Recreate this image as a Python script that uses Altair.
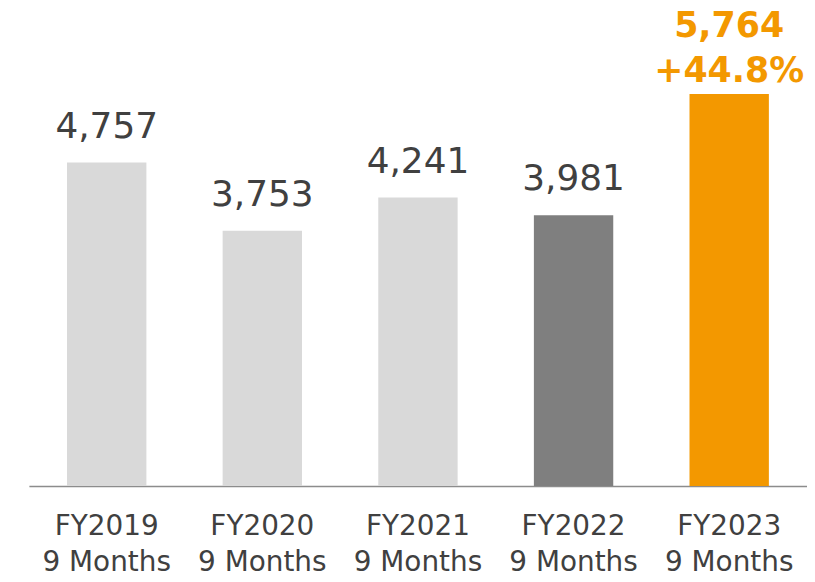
import altair as alt
import pandas as pd

categories = ["FY2019", "FY2020", "FY2021", "FY2022", "FY2023"]
sublabels = ["9 Months"] * 5
values = [4757, 3753, 4241, 3981, 5764]
value_labels = ["4,757", "3,753", "4,241", "3,981", "5,764"]
growth_labels = ["", "", "", "", "+44.8%"]
bar_colors = ["#D9D9D9", "#D9D9D9", "#D9D9D9", "#7F7F7F", "#F39800"]
label_colors = ["#404040", "#404040", "#404040", "#404040", "#F39800"]

df = pd.DataFrame({
    "cat": categories,
    "value": values,
    "vlabel": value_labels,
    "glabel": growth_labels,
    "bcolor": bar_colors,
    "lcolor": label_colors,
})
df["highlight"] = df["glabel"] != ""

x = alt.X("cat:N", sort=categories,
          scale=alt.Scale(paddingInner=0.49, paddingOuter=0.245),
          axis=alt.Axis(title=None, labelAngle=0, ticks=False,
                        labelFont="DejaVu Sans", labelFontSize=28,
                        labelColor="#404040", labelLineHeight=36,
                        labelPadding=27, labelBaseline="top",
                        domainColor="#8C8C8C", domainWidth=1.5,
                        labelExpr="[datum.label, '9 Months']"))
y = alt.Y("value:Q", scale=alt.Scale(domain=[0, 6948], nice=False),
          axis=None)

base = alt.Chart(df).encode(x=x, y=y)

bars = base.mark_bar().encode(color=alt.Color("bcolor:N", scale=None))

normal_labels = base.transform_filter("!datum.highlight").mark_text(
    font="DejaVu Sans", fontSize=36, baseline="alphabetic", dy=-25,
    color="#404040").encode(text="vlabel:N")

hl_value = base.transform_filter("datum.highlight").mark_text(
    font="DejaVu Sans", fontSize=35, fontWeight="bold", baseline="alphabetic",
    dy=-57).encode(text="vlabel:N", color=alt.Color("lcolor:N", scale=None))

hl_growth = base.transform_filter("datum.highlight").mark_text(
    font="DejaVu Sans", fontSize=35, fontWeight="bold", baseline="alphabetic",
    dy=-12).encode(text="glabel:N", color=alt.Color("lcolor:N", scale=None))

chart = alt.layer(bars, normal_labels, hl_value, hl_growth).properties(
    width=782, height=475,
    background="white",
    autosize=alt.AutoSizeParams(type="none"),
    padding={"left": 21, "top": 4, "right": 0, "bottom": 95},
).configure_view(stroke="transparent", strokeWidth=0)

chart.save("out.html", embed_options={"renderer": "svg", "actions": False})
